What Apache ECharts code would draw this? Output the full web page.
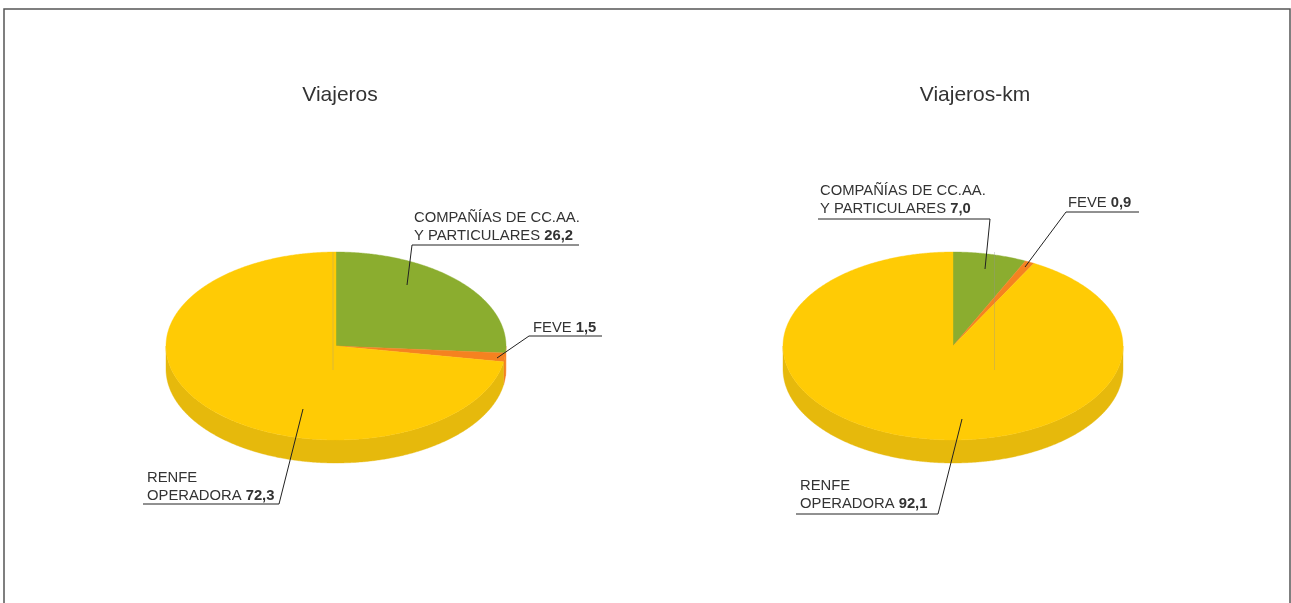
<!DOCTYPE html>
<html><head><meta charset="utf-8">
<style>html,body{margin:0;padding:0;background:#fff}#c{width:1291px;height:603px}</style>
<script src="https://cdn.jsdelivr.net/npm/echarts@6/dist/echarts.min.js"></script>
</head><body><div id="c"></div>
<script>
const pieTitles = ['Viajeros', 'Viajeros-km'];
const categories = ['COMPAÑÍAS DE CC.AA.\nY PARTICULARES', 'FEVE', 'RENFE\nOPERADORA'];
const viajeros = [26.2, 1.5, 72.3];
const viajerosKm = [7.0, 0.9, 92.1];

const FONT = '"Liberation Sans", Arial, sans-serif';
const faceColors = ['#8BAD2F', '#F58220', '#FFCB05'];
const wallColors = ['#F58220', '#F58220', '#E6B90C'];
const DEPTH = 23;
const pies = [
  {values: viajeros, grid: {left: 166, top: 252, width: 340, height: 188}, titleX: 340, seam: 333,
   leaders: [[[407,285],[412,245],[579,245]], [[497,358],[529,336],[602,336]], [[303,409],[279,504],[143,504]]],
   labels: [[414,217], [533,327], [147,477]]},
  {values: viajerosKm, grid: {left: 783, top: 252, width: 340, height: 188}, titleX: 975, seam: 994.5,
   leaders: [[[985,269],[990,219],[818,219]], [[1025,267],[1066,212],[1139,212]], [[962,419],[938,514],[796,514]]],
   labels: [[820,190], [1068,202], [800,485]]}
];
const fmt = v => v.toFixed(1).replace('.', ',');

function sliceRows(values) {
  let acc = 0;
  return values.map((v, i) => { const r = [acc, acc + v, i]; acc += v; return r; });
}
function unit(pct) {
  const a = pct / 100 * 2 * Math.PI;
  return [Math.sin(a), Math.cos(a)];
}
function arc(api, from, to) {
  const pts = [], n = Math.max(2, Math.ceil((to - from) * 8));
  for (let k = 0; k <= n; k++) pts.push(api.coord(unit(from + (to - from) * k / n)));
  return pts;
}
function renderFace(params, api) {
  const from = api.value(0), to = api.value(1), i = api.value(2);
  const pts = [api.coord([0, 0])].concat(arc(api, from, to));
  return {type: 'polygon', shape: {points: pts},
    style: {fill: faceColors[i], stroke: faceColors[i], lineWidth: 0.4}};
}
function renderWall(params, api) {
  const from = Math.max(api.value(0), 25), to = Math.min(api.value(1), 75), i = api.value(2);
  if (to <= from) return {type: 'group', children: []};
  const top = arc(api, from, to);
  const bottom = top.map(p => [p[0], p[1] + DEPTH]).reverse();
  return {type: 'polygon', shape: {points: top.concat(bottom)},
    style: {fill: wallColors[i], stroke: wallColors[i], lineWidth: 0.4}};
}

const grids = [], xAxes = [], yAxes = [], series = [], graphics = [], titles = [];
pies.forEach((p, pi) => {
  grids.push(p.grid);
  xAxes.push({type: 'value', gridIndex: pi, min: -1, max: 1, show: false});
  yAxes.push({type: 'value', gridIndex: pi, min: -1, max: 1, show: false});
  const rows = sliceRows(p.values);
  const base = {type: 'custom', xAxisIndex: pi, yAxisIndex: pi, clip: false, silent: true,
    data: rows, encode: {x: 0, y: 1}, animation: false};
  series.push(Object.assign({}, base, {renderItem: renderWall, z: 2}));
  series.push(Object.assign({}, base, {renderItem: renderFace, z: 3}));
  titles.push({text: pieTitles[pi], left: p.titleX, top: 95, padding: 0, textAlign: 'center', textVerticalAlign: 'middle',
    textStyle: {fontFamily: FONT, fontSize: 21, fontWeight: 'normal', color: '#333333'}});
  graphics.push({type: 'line', z: 4, silent: true,
    shape: {x1: p.seam, y1: 252, x2: p.seam, y2: 370},
    style: {stroke: 'rgba(150,150,150,0.35)', lineWidth: 1}});
  p.leaders.forEach(l => graphics.push({type: 'polyline', z: 5, silent: true, shape: {points: l},
    style: {stroke: '#222222', lineWidth: 1, fill: null}}));
  categories.forEach((name, i) => {
    const lines = name.split('\n');
    const last = lines.pop();
    const text = lines.map(s => '{n|' + s + '}\n').join('') + '{n|' + last + ' }{b|' + fmt(p.values[i]) + '}';
    graphics.push({type: 'text', z: 6, silent: true, x: p.labels[i][0], y: p.labels[i][1] - 8,
      style: {text: text, fill: '#333333', font: '15px ' + FONT, rich: {
        n: {fontFamily: FONT, fontSize: 14.8, lineHeight: 18, fill: '#333333', color: '#333333'},
        b: {fontFamily: FONT, fontSize: 14.8, fontWeight: 'bold', lineHeight: 18, fill: '#333333', color: '#333333'}
      }}});
  });
});
graphics.push({type: 'polyline', z: 10, silent: true,
  shape: {points: [[4, 603], [4, 9], [1290, 9], [1290, 603]]},
  style: {stroke: '#555555', lineWidth: 1.5, fill: null}});

const chart = echarts.init(document.getElementById('c'), null, {renderer: 'canvas'});
chart.setOption({animation: false, backgroundColor: '#ffffff', title: titles,
  grid: grids, xAxis: xAxes, yAxis: yAxes, series: series, graphic: graphics});
</script></body></html>
